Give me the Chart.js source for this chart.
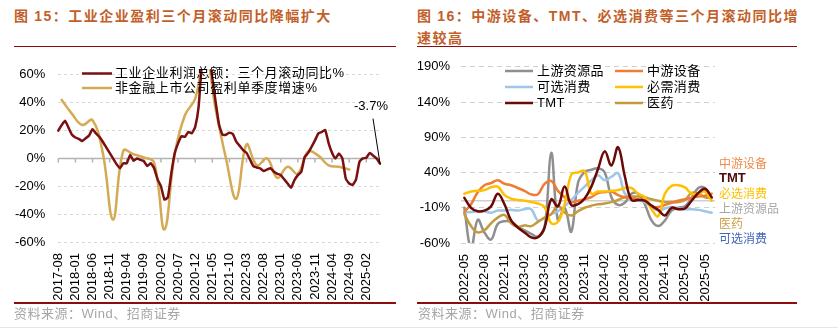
<!DOCTYPE html>
<html>
<head>
<meta charset="utf-8">
<script src="https://cdn.jsdelivr.net/npm/chart.js@4.4.1/dist/chart.umd.min.js"></script>
<style>
  html, body { margin: 0; padding: 0; background: #fff; }
  body { width: 838px; height: 329px; position: relative; overflow: hidden; font-family: "Noto Sans CJK SC", sans-serif; }
  .title { position: absolute; top: 5px; color: #c25f2a; font-weight: bold; font-size: 14px; letter-spacing: 1.5px; line-height: 21px; white-space: nowrap; }
  .title .en { font-family: Arial, "Liberation Sans", sans-serif; }
  .rule { position: absolute; background: #8e0c0c; }
  .src { position: absolute; top: 304px; color: #a6a6a6; font-size: 13px; letter-spacing: 0.5px; line-height: 18px; white-space: nowrap; }
  .src .en { font-family: Arial, "Liberation Sans", sans-serif; }
  canvas { position: absolute; top: 48px; }
  .ends { position: absolute; left: 719px; top: 155px; font-size: 12px; line-height: 15px; white-space: nowrap; }
  .ends .tmt { font-family: Arial, "Liberation Sans", sans-serif; font-weight: bold; font-size: 13px; }
</style>
</head>
<body>
<div class="title" style="left:14px">图 <span class="en">15</span>：工业企业盈利三个月滚动同比降幅扩大</div>
<div class="title" style="left:417px">图 <span class="en">16</span>：中游设备、<span class="en">TMT</span>、必选消费等三个月滚动同比增<br>速较高</div>
<div class="rule" style="left:14px;top:45.5px;width:382px;height:1.5px"></div>
<div class="rule" style="left:417px;top:45.5px;width:380px;height:1.5px"></div>

<canvas id="profitChart" width="400" height="255" style="left:0"></canvas>
<canvas id="sectorChart" width="420" height="255" style="left:418px"></canvas>

<div class="ends">
  <div style="color:#f08a4b">中游设备</div>
  <div class="tmt" style="color:#4d0a0a">TMT</div>
  <div style="color:#ffc000">必选消费</div>
  <div style="color:#a6a6a6">上游资源品</div>
  <div style="color:#c9a049">医药</div>
  <div style="color:#3f66b5">可选消费</div>
</div>

<div class="rule" style="left:14px;top:302px;width:382px;height:2px"></div>
<div class="rule" style="left:417px;top:302px;width:380px;height:2px"></div>
<div class="src" style="left:14px">资料来源：<span class="en">Wind</span>、招商证券</div>
<div class="src" style="left:418px">资料来源：<span class="en">Wind</span>、招商证券</div>
<div style="position:absolute;left:0;top:327px;width:838px;height:1px;background:#e6e6e6"></div>

<script>
  "use strict";

  function monthRange(year, month, count) {
    const out = [];
    for (let i = 0; i < count; i++) {
      const t = month - 1 + i;
      out.push(year + Math.floor(t / 12) + "-" + String((t % 12) + 1).padStart(2, "0"));
    }
    return out;
  }

  // ---- chart 15 ----
  const profitMonths = monthRange(2017, 8, 95);
  const profitRolling = [
    20, 24, 27, 22, 17, 15, 14, 12.5, 14.5, 16.5,
    21, 18, 15.5, 12, 8, 4, 0, -4, -7, -3.5,
    -3.5, 2.5, -1.7, 0, -1, -2, -5.5, -3.5, -7, -15,
    -20, -29.5, -28, -11, 3.5, 10.8, 16, 15.5, 19, 18,
    22.7, 37, 70, 88, 75, 58, 40, 24, 17, 17,
    18.5, 17.5, 12, 9, 6, 4, -0.7, -5.5, -6.5, -7.2,
    -9, -8, -7, -9.6, -11, -12, -15, -18, -21, -15.6,
    -12, -9.6, 1, 4, 8.3, 13, 18, 19, 20.4, 10.8,
    4, 0, 3.6, 0, -14.4, -18, -19, -15, -2.4, 0,
    0.5, 4, 2, 0, -3.7,
  ];
  const listedQuarters = monthRange(2017, 9, 85).filter((_, i) => i % 3 === 0);
  const listedProfit = [
    42, 32, 24, 27.5, 4, -44, 5.5, 3, 0.7, -3,
    -51, 3, 31, 43, 75, 35, 0, -29, 10, -5,
    0, -14, -6, -11, 5, 2, -5, -6, -8,
  ];
  const profitTicks = [-60, -40, -20, 0, 20, 40, 60];

  // ---- chart 16 ----
  const sectorMonths = monthRange(2022, 5, 38);
  const sectorTicks = [-60, -10, 40, 90, 140, 190];
  const upstream = [-10, -68, -27, -45, -55, -33, -29, -30, -37, -42, -47, -51, -38, 68, -28, -10, -44, 25, 41, 44, 46, 40, 5, -6, -3, 10, 10, -5, -28, -36, -28, -14, -10, -8, 4, 18, 18, 4];
  const midstream = [-16, -5, 12, 22, 25, 29, 24, 22, 18, 14, 9, 9, 24, 28, 14, 5, -2, 0, 2, 5, 11, 12, 13, 8, 5, 4, 2, 0, -8, -9, -6, -3, 0, 2, 4, 6, 7, 10];
  const discretionary = [-17, -16, -15, -15, -17, -14, -14, -13, -14, -12, -12, -28, -24, -19, -15, -8, 1, 11, 20, 29, 36, 29, 34, 39, 10, 2, 0, -2, -9, -14, -11, -9, -11, -12, -12, -13, -15, -17];
  const staples = [10, 13, 14, 15, 19, 20, 8, 3, 1, 0, -2, -4, -9, -32, -30, -5, 37, 40, 42, 10, 13, 13, 14, 15, 18, 18, 10, 5, -12, -22, 10, 21, 22, 19, 10, 10, 13, 0];
  const tmt = [4, -10, -15, -14, -8, 10, -5, -28, -38, -45, -52, -52, -38, 2, -8, 20, -6, -5, 3, 20, 45, 70, 50, 76, 35, 1, 1, 0, -7, -13, -21, -10, -12, -11, 0, 11, 17, 5];
  const pharma = [-19, -36, -45, -42, -32, -24, -20, -32, -37, -35, -36, -30, -24, -19, -7, -17, -21, -15, -10, -7, -5, -4, -2, 1, 5, 6, 6, 5, 2, 0, -2, -2, -2, 1, 11, 10, 5, 4];

  const tickFont = { family: 'Arial, "Liberation Sans", sans-serif', size: 13 };

  const zeroLine = {
    id: "zeroLine",
    beforeDatasetsDraw(chart, args, opts) {
      const { ctx, chartArea: a, scales } = chart;
      const y0 = scales.y.getPixelForValue(0);
      ctx.save();
      ctx.strokeStyle = opts.color;
      ctx.lineWidth = opts.width;
      ctx.beginPath();
      ctx.moveTo(a.left, y0);
      ctx.lineTo(a.right, y0);
      if (opts.tickEvery) {
        for (let i = 0; i < chart.data.labels.length; i += opts.tickEvery) {
          const px = scales.x.getPixelForValue(i);
          ctx.moveTo(px, y0);
          ctx.lineTo(px, y0 + opts.tickLen);
        }
      }
      ctx.stroke();
      ctx.restore();
    },
  };

  const sideLegend = {
    id: "sideLegend",
    afterDatasetsDraw(chart, args, opts) {
      const ctx = chart.ctx;
      ctx.save();
      ctx.font = opts.font;
      if ("letterSpacing" in ctx) ctx.letterSpacing = opts.spacing;
      ctx.textBaseline = "middle";
      ctx.fillStyle = "#000";
      chart.data.datasets.forEach((ds, i) => {
        const [sx, sy] = opts.slots[i];
        ctx.strokeStyle = ds.borderColor;
        ctx.lineWidth = ds.borderWidth;
        ctx.beginPath();
        ctx.moveTo(sx, sy);
        ctx.lineTo(sx + opts.sample, sy);
        ctx.stroke();
        ctx.fillText(ds.label, sx + opts.sample + opts.gap, sy);
      });
      ctx.restore();
    },
  };

  const endNote = {
    id: "endNote",
    afterDatasetsDraw(chart) {
      const ctx = chart.ctx;
      const meta = chart.getDatasetMeta(0);
      const last = meta.data.length - 1;
      const pt = meta.data[last];
      const v = chart.data.datasets[0].data[last];
      ctx.save();
      ctx.strokeStyle = "#000";
      ctx.lineWidth = 1;
      ctx.beginPath();
      ctx.moveTo(pt.x - 7, pt.y - 45);
      ctx.lineTo(pt.x, pt.y);
      ctx.stroke();
      ctx.fillStyle = "#000";
      ctx.font = '13px Arial, "Liberation Sans", sans-serif';
      ctx.textAlign = "center";
      ctx.textBaseline = "middle";
      ctx.fillText(v.toFixed(1) + "%", pt.x - 9, pt.y - 57);
      ctx.restore();
    },
  };

  function xAxis(every, height, offset) {
    return {
      type: "category",
      offset,
      grid: { display: false, drawTicks: false },
      border: { display: false },
      ticks: {
        autoSkip: false,
        minRotation: 90,
        maxRotation: 90,
        padding: 11,
        color: "#000",
        font: tickFont,
        callback(value, index) {
          return index % every === 0 ? this.getLabelForValue(value) : null;
        },
      },
      afterFit(scale) {
        scale.height = height;
      },
    };
  }

  function yAxis(min, max, ticks, width, pad, dash, gridColor) {
    return {
      min,
      max,
      afterBuildTicks(scale) {
        scale.ticks = ticks.map((value) => ({ value }));
      },
      grid: {
        drawTicks: false,
        lineWidth: 1,
        color: (c) => (c.tick && c.tick.value === 0 ? "rgba(0,0,0,0)" : gridColor),
      },
      border: { display: false, dash },
      ticks: { padding: pad, color: "#000", font: tickFont, callback: (v) => v + "%" },
      afterFit(scale) {
        scale.width = width;
      },
    };
  }

  new Chart(document.getElementById("profitChart"), {
    type: "line",
    data: {
      labels: profitMonths,
      datasets: [
        {
          label: "工业企业利润总额：三个月滚动同比%",
          data: profitRolling,
          borderColor: "#7b1010",
          borderWidth: 2.5,
          tension: 0.15,
          order: 0,
        },
        {
          label: "非金融上市公司盈利单季度增速%",
          data: listedQuarters.map((q, i) => ({ x: q, y: listedProfit[i] })),
          borderColor: "#d4aa55",
          borderWidth: 2.5,
          tension: 0.4,
          spanGaps: true,
          order: 1,
        },
      ],
    },
    options: {
      responsive: false,
      animation: false,
      layout: { padding: { top: 21.3, right: 20, left: 0, bottom: 0 } },
      elements: { point: { radius: 0 }, line: { borderJoinStyle: "round", borderCapStyle: "round" } },
      scales: {
        x: xAxis(5, 61, false),
        y: yAxis(-60, 64, profitTicks, 58.3, 13, [3, 3], "#d9d9d9"),
      },
      plugins: {
        legend: { display: false },
        tooltip: { enabled: false },
        zeroLine: { color: "#b3b3b3", width: 1.5, tickEvery: 5, tickLen: 4 },
        sideLegend: {
          font: '13px "Liberation Sans", "Noto Sans CJK SC", sans-serif',
          spacing: "0.6px",
          slots: [[82, 25.5], [82, 40]],
          sample: 30,
          gap: 3,
        },
      },
    },
    plugins: [zeroLine, sideLegend, endNote],
  });

  new Chart(document.getElementById("sectorChart"), {
    type: "line",
    data: {
      labels: sectorMonths,
      datasets: [
        { label: "上游资源品", data: upstream, borderColor: "#8f8f8f", order: 5 },
        { label: "中游设备", data: midstream, borderColor: "#ef7c32", order: 2 },
        { label: "可选消费", data: discretionary, borderColor: "#9fc5e8", order: 4 },
        { label: "必需消费", data: staples, borderColor: "#ffc000", order: 1 },
        { label: "TMT", data: tmt, borderColor: "#6b0808", order: 0 },
        { label: "医药", data: pharma, borderColor: "#c39b3d", order: 3 },
      ].map((d) => Object.assign({ borderWidth: 2.5, tension: 0.4 }, d)),
    },
    options: {
      responsive: false,
      animation: false,
      layout: { padding: { top: 15, right: 123, left: 0, bottom: 0 } },
      elements: { point: { radius: 0 }, line: { borderJoinStyle: "round", borderCapStyle: "round" } },
      scales: {
        x: xAxis(3, 60, true),
        y: yAxis(-60, 190, sectorTicks, 43, 11, [5, 4], "#d0d0d0"),
      },
      plugins: {
        legend: { display: false },
        tooltip: { enabled: false },
        zeroLine: { color: "#d0d0d0", width: 1.5, tickEvery: 0, tickLen: 0 },
        sideLegend: {
          font: '13px "Liberation Sans", "Noto Sans CJK SC", sans-serif',
          spacing: "0.4px",
          slots: [[87, 23], [197, 23], [87, 39], [197, 39], [87, 55], [197, 55]],
          sample: 28,
          gap: 4,
        },
      },
    },
    plugins: [zeroLine, sideLegend],
  });
</script>
</body>
</html>
